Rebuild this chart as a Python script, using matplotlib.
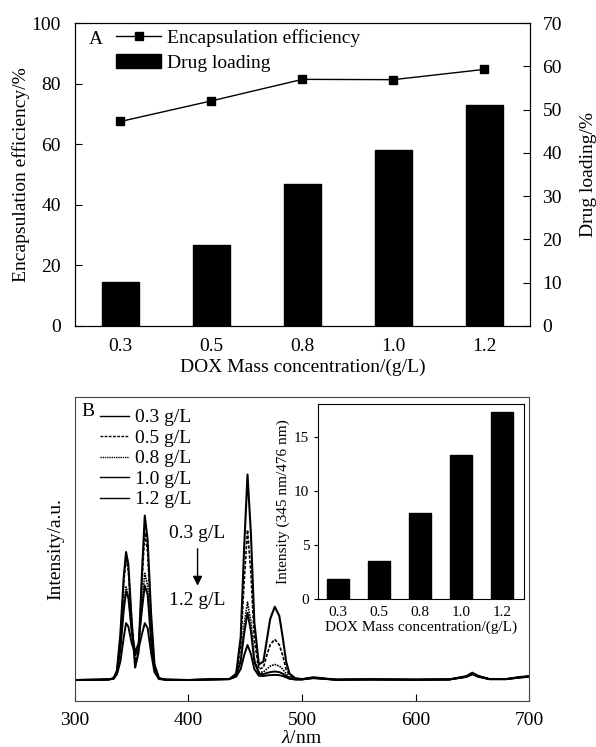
import matplotlib.pyplot as plt

plt.rcParams['font.family'] = ['Liberation Serif', 'DejaVu Serif']
plt.rcParams['mathtext.fontset'] = 'custom'
plt.rcParams['mathtext.it'] = 'Liberation Serif:italic'
plt.rcParams['mathtext.rm'] = 'Liberation Serif'

# Dados do painel A
conc = ['0.3', '0.5', '0.8', '1.0', '1.2']
encap_eff = [67.5, 74.3, 81.4, 81.3, 84.7]
drug_loading = [10.2, 18.7, 32.7, 40.7, 51.0]

# Razão de intensidade (345 nm / 476 nm) no detalhe
ratio = [1.85, 3.48, 7.95, 13.28, 17.25]

# Espectros de fluorescência (unidades arbitrárias)
wl = [300, 320, 330, 334, 337, 340, 343, 345, 347, 350, 353, 356, 359, 361.5, 364,
      367, 370, 374, 380, 400, 420, 436, 442, 446, 449, 452, 455, 458, 462, 466,
      469, 472, 476, 480, 483, 486, 489, 494, 500, 510, 530, 560, 600, 630, 645,
      650, 655, 665, 680, 690, 700]
spec_03 = [6.9, 7.0, 7.1, 7.5, 10, 22, 41, 49, 45, 26, 11, 16, 42, 61, 53,
           29, 12, 7.5, 7.0, 6.9, 7.1, 7.2, 9, 21, 50, 74.5, 55, 26, 12, 13,
           20, 27, 31, 28, 21, 13, 9, 7.5, 7.2, 7.8, 7.0, 7.1, 7.0, 7.1, 8.2,
           9.3, 8.3, 7.2, 7.2, 7.8, 8.2]
spec_05 = [6.9, 7.0, 7.1, 7.5, 10, 21, 39, 47, 43, 26, 13, 17, 39, 55.5, 49,
           27, 12, 7.5, 7.0, 6.9, 7.1, 7.2, 8.8, 18, 39, 56.3, 42, 20, 10.5, 11,
           15, 18.5, 20.3, 18.5, 15, 10.5, 8.5, 7.3, 7.2, 7.7, 7.0, 7.1, 7.0, 7.1, 8.1,
           9.1, 8.2, 7.2, 7.2, 7.7, 8.1]
spec_08 = [6.9, 7.0, 7.1, 7.4, 9.5, 18, 32, 37.5, 35, 23, 15, 18, 32, 42, 38,
           22, 11, 7.4, 7.0, 6.9, 7.1, 7.2, 8.5, 14, 25, 32.5, 26, 14, 9.5, 9.5,
           10.5, 11.5, 12, 11.5, 10.5, 9, 7.8, 7.1, 7.1, 7.6, 7.0, 7.1, 7.0, 7.1, 8.0,
           9.0, 8.1, 7.2, 7.2, 7.7, 8.1]
spec_10 = [6.9, 7.0, 7.1, 7.4, 9.5, 17, 30, 36, 34, 23, 16, 19, 30, 38, 35,
           20, 10.5, 7.4, 7.0, 6.9, 7.1, 7.2, 8.3, 13, 22, 29, 23, 13, 9, 8.8,
           9.2, 9.5, 9.7, 9.5, 9, 8.2, 7.5, 7.1, 7.1, 7.6, 7.0, 7.1, 7.0, 7.1, 8.0,
           8.9, 8.1, 7.2, 7.2, 7.7, 8.0]
spec_12 = [6.9, 7.0, 7.1, 7.3, 8.8, 13, 21, 25.6, 24.5, 19, 15.5, 17, 22, 25.6, 24,
           16, 9.5, 7.2, 7.0, 6.9, 7.1, 7.2, 8.0, 10.5, 15, 18.4, 15.5, 10.5, 8.3, 8.2,
           8.4, 8.5, 8.6, 8.5, 8.2, 7.8, 7.3, 7.1, 7.1, 7.5, 7.0, 7.1, 7.0, 7.1, 7.9,
           8.8, 8.0, 7.2, 7.2, 7.6, 8.0]

fig = plt.figure(figsize=(5.96, 7.47), dpi=100)

# ---------- Painel A ----------
ax1 = fig.add_axes([0.1258, 0.5636, 0.7634, 0.4056])
ax2 = ax1.twinx()
x = list(range(len(conc)))
bars = ax2.bar(x, drug_loading, width=0.41, color='black', edgecolor='black', label='Drug loading')
line, = ax1.plot(x, encap_eff, color='black', lw=1, marker='s', markersize=6,
                 label='Encapsulation efficiency')
ax1.set_zorder(ax2.get_zorder() + 1)
ax1.patch.set_visible(False)
ax1.set_xlim(-0.5, 4.5)
ax1.set_ylim(0, 100)
ax2.set_ylim(0, 70)
ax1.set_xticks(x)
ax1.set_xticklabels(conc)
ax1.set_yticks([0, 20, 40, 60, 80, 100])
ax2.set_yticks([0, 10, 20, 30, 40, 50, 60, 70])
ax1.tick_params(axis='x', length=0, pad=9, labelsize=14)
ax1.tick_params(axis='y', direction='in', length=5, pad=10, labelsize=14)
ax2.tick_params(axis='y', direction='in', length=5, pad=9, labelsize=14)
ax1.set_xlabel('DOX Mass concentration/(g/L)', fontsize=14, labelpad=2)
ax1.set_ylabel('Encapsulation efficiency/%', fontsize=14, labelpad=1)
ax2.set_ylabel('Drug loading/%', fontsize=14, labelpad=13)
ax1.text(0.03, 0.975, 'A', transform=ax1.transAxes, fontsize=14, va='top', ha='left')
ax1.legend([line, bars], ['Encapsulation efficiency', 'Drug loading'],
           loc='upper left', bbox_to_anchor=(0.065, 1.02), frameon=False, fontsize=14,
           handlelength=2.3, handleheight=0.8, labelspacing=0.35, handletextpad=0.3,
           borderaxespad=0.2)

# ---------- Painel B ----------
ax3 = fig.add_axes([0.1258, 0.0616, 0.7618, 0.4069])
ax3.plot(wl, spec_03, color='black', lw=1.5, ls='-', label='0.3 g/L')
ax3.plot(wl, spec_05, color='black', lw=1.2, ls=(0, (2, 1)), label='0.5 g/L')
ax3.plot(wl, spec_08, color='black', lw=1.2, ls=(0, (1, 0.6)), label='0.8 g/L')
ax3.plot(wl, spec_10, color='black', lw=1.4, ls='-', label='1.0 g/L')
ax3.plot(wl, spec_12, color='black', lw=1.4, ls='-', label='1.2 g/L')
ax3.set_xlim(300, 700)
ax3.set_ylim(0, 100)
ax3.set_xticks([300, 400, 500, 600, 700])
ax3.set_yticks([])
ax3.tick_params(axis='x', direction='in', length=5, pad=8, labelsize=14)
ax3.set_xlabel(r'$\lambda$/nm', fontsize=14, labelpad=1)
ax3.set_ylabel('Intensity/a.u.', fontsize=14, labelpad=8)
for s in ax3.spines.values():
    s.set_color('#444444')
ax3.text(0.015, 0.98, 'B', transform=ax3.transAxes, fontsize=14, va='top', ha='left')
leg = ax3.legend(loc='upper left', bbox_to_anchor=(0.03, 1.0), frameon=False, fontsize=14,
                 handlelength=1.5, labelspacing=0.15, handletextpad=0.3, borderaxespad=0.2)
for h in leg.get_lines():
    h.set_linewidth(1.0)
ax3.annotate('', xy=(408, 37), xytext=(408, 51),
             arrowprops=dict(arrowstyle='-|>', color='black', lw=1, mutation_scale=14))
ax3.text(408, 55, '0.3 g/L', fontsize=14, ha='center', va='center')
ax3.text(408, 33, '1.2 g/L', fontsize=14, ha='center', va='center')

# Detalhe: razão de intensidade
ax4 = fig.add_axes([0.533, 0.198, 0.347, 0.261])
ax4.bar(range(len(conc)), ratio, width=0.54, color='black', edgecolor='black')
ax4.set_xlim(-0.5, 4.55)
ax4.set_ylim(0, 18)
ax4.set_xticks(range(len(conc)))
ax4.set_xticklabels(conc)
ax4.set_yticks([0, 5, 10, 15])
ax4.tick_params(axis='x', length=0, pad=5, labelsize=11)
ax4.tick_params(axis='y', direction='out', length=3, pad=3, labelsize=11)
ax4.set_xlabel('DOX Mass concentration/(g/L)', fontsize=11, labelpad=1)
ax4.set_ylabel('Intensity (345 nm/476 nm)', fontsize=11, labelpad=3)

plt.savefig('out.png', dpi=100)
